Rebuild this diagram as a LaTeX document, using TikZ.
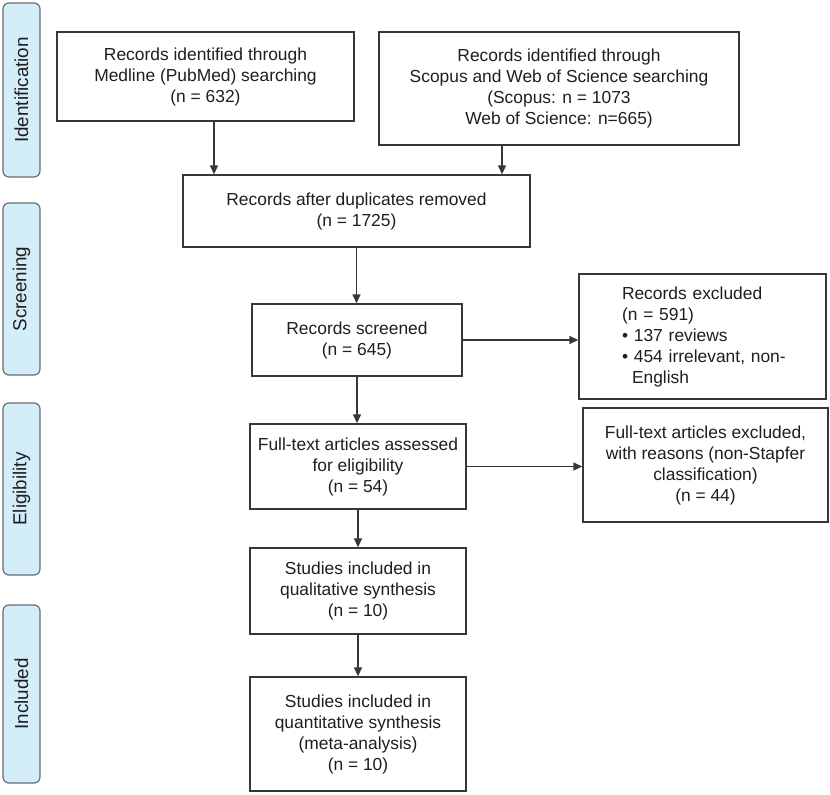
\documentclass[tikz,border=0pt]{standalone}
\usepackage{fontspec}
\setmainfont{Liberation Sans}
\usetikzlibrary{arrows.meta}
\definecolor{sidefill}{RGB}{212,237,250}
\definecolor{sidedraw}{RGB}{105,110,115}
\definecolor{boxdraw}{RGB}{55,55,55}
\definecolor{txt}{RGB}{30,30,30}
\tikzset{
  box/.style={draw=boxdraw, line width=1.4pt, rectangle, align=center, inner sep=0pt, text=txt,
    font=\fontsize{17.4}{21}\selectfont},
  side/.style={draw=sidedraw, fill=sidefill, line width=1.2pt, rounded corners=6pt, inner sep=0pt,
    minimum width=37pt, text=txt, font=\fontsize{18.8}{21}\selectfont},
  arr/.style={draw=boxdraw, line width=1.4pt, -{Triangle[length=9pt,width=8pt]}}
}
\begin{document}
\begin{tikzpicture}[x=1pt,y=-1pt]
\useasboundingbox (0,0) rectangle (830,795);
% side bars
\node[side, minimum height=174pt] (sid) at (21.5,90) {\rotatebox{90}{Identification}};
\node[side, minimum height=172pt] (sscr) at (21.5,289) {\rotatebox{90}{Screening}};
\node[side, minimum height=172pt] (selig) at (21.5,489) {\rotatebox{90}{Eligibility}};
\node[side, minimum height=178pt] (sincl) at (21.5,694) {\rotatebox{90}{Included}};
% boxes
\node[box, minimum width=297pt, minimum height=89pt] (A) at (205.5,76.5)
  {Records identified through\\Medline (PubMed) searching\\(n = 632)};
\node[box, minimum width=360pt, minimum height=113pt] (B) at (559,88.5)
  {Records identified through\\Scopus and Web of Science searching\\(Scopus: n = 1073\\Web of Science: n=665)};
\node[box, minimum width=347pt, minimum height=72pt] (C) at (356.5,211)
  {Records after duplicates removed\\(n = 1725)};
\node[box, minimum width=210pt, minimum height=72pt] (D) at (357,340)
  {Records screened\\(n = 645)};
\node[box, minimum width=247pt, minimum height=125pt, text width=247pt, align=left] (E) at (702.5,336.5)
  {\hspace*{43pt}Records excluded\\\hspace*{43pt}(n = 591)\\\hspace*{43pt}• 137 reviews\\\hspace*{43pt}• 454 irrelevant, non-\\\hspace*{53pt}English};
\node[box, minimum width=216pt, minimum height=85pt] (F) at (358,466.5)
  {Full-text articles assessed\\for eligibility\\(n = 54)};
\node[box, minimum width=245pt, minimum height=114pt] (G) at (705.5,465)
  {Full-text articles excluded,\\with reasons (non-Stapfer\\classification)\\(n = 44)};
\node[box, minimum width=216pt, minimum height=86pt] (H) at (358,591)
  {Studies included in\\qualitative synthesis\\(n = 10)};
\node[box, minimum width=216pt, minimum height=114pt] (I) at (358,734)
  {Studies included in\\quantitative synthesis\\(meta-analysis)\\(n = 10)};
% connectors
\draw[arr] ([xshift=8.5pt]A.south) -- ([xshift=8.5pt]A.south |- C.north);
\draw[arr] ([xshift=-57pt]B.south) -- ([xshift=-57pt]B.south |- C.north);
\draw[arr] (C.south) -- (C.south |- D.north);
\draw[arr] (D.east) -- (D.east -| E.west);
\draw[arr] (D.south) -- (D.south |- F.north);
\draw[arr] (F.east) -- (F.east -| G.west);
\draw[arr] (F.south) -- (H.north);
\draw[arr] (H.south) -- (I.north);
\end{tikzpicture}
\end{document}
